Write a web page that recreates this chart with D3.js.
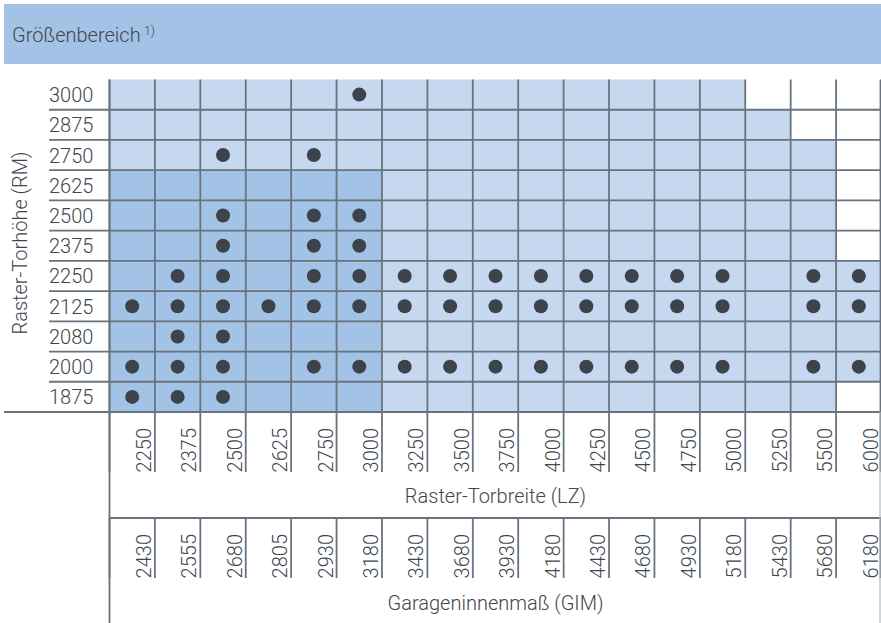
<!DOCTYPE html>
<html>
<head>
<meta charset="utf-8">
<script src="https://cdn.jsdelivr.net/npm/d3@7"></script>
<style>
body { margin: 0; background: #fff; }
text { font-family: Roboto, "Noto Sans", sans-serif; font-weight: 300; fill: #41464c; }
</style>
</head>
<body>
<svg width="881" height="623"></svg>
<script>
// door heights (rows, top to bottom) and widths (columns)
var heights = [3000, 2875, 2750, 2625, 2500, 2375, 2250, 2125, 2080, 2000, 1875];
var widths = [2250, 2375, 2500, 2625, 2750, 3000, 3250, 3500, 3750, 4000, 4250, 4500, 4750, 5000, 5250, 5500, 6000];
var garage = [2430, 2555, 2680, 2805, 2930, 3180, 3430, 3680, 3930, 4180, 4430, 4680, 4930, 5180, 5430, 5680, 6180];

// size range per width: highest and lowest height available
var maxHeight = [3000, 3000, 3000, 3000, 3000, 3000, 3000, 3000, 3000, 3000, 3000, 3000, 3000, 3000, 2875, 2750, 2250];
var minHeight = [1875, 1875, 1875, 1875, 1875, 1875, 1875, 1875, 1875, 1875, 1875, 1875, 1875, 1875, 1875, 1875, 2000];

// darker block
var stdWidths = [2250, 2375, 2500, 2625, 2750, 3000];
var stdHeights = [2625, 2500, 2375, 2250, 2125, 2080, 2000, 1875];

// dots, one list of widths per height row (same order as heights)
var dotRows = [
  [3000],
  [],
  [2500, 2750],
  [],
  [2500, 2750, 3000],
  [2500, 2750, 3000],
  [2375, 2500, 2750, 3000, 3250, 3500, 3750, 4000, 4250, 4500, 4750, 5000, 5500, 6000],
  [2250, 2375, 2500, 2625, 2750, 3000, 3250, 3500, 3750, 4000, 4250, 4500, 4750, 5000, 5500, 6000],
  [2375, 2500],
  [2250, 2375, 2500, 2750, 3000, 3250, 3500, 3750, 4000, 4250, 4500, 4750, 5000, 5500, 6000],
  [2250, 2375, 2500]
];

var svg = d3.select("svg");
var lineCol = "#69737e", dark = "#a3c3e6", light = "#c5d8ef", dotCol = "#3d434a";
var fs = "20px";

var x = d3.scaleBand().domain(widths).range([109.5, 881.5]).padding(0);
var y = d3.scaleBand().domain(heights).range([79.5, 412]).padding(0);
var gLeft = x.range()[0], gRight = x.range()[1], gTop = y.range()[0], gBottom = y.range()[1];
var tick1 = [gBottom, 472], tick2 = [518, 578];

// header band
svg.append("rect").attr("x", 4).attr("y", 4).attr("width", 877).attr("height", 60).attr("fill", dark);
var hdr = svg.append("text").attr("x", 12).attr("y", 42).attr("font-size", fs);
hdr.append("tspan").text("Größenbereich");
hdr.append("tspan").attr("dx", 3).attr("dy", -7).attr("font-size", "13px").text("1)");

// cells
var cells = [];
heights.forEach(function(h) {
  widths.forEach(function(w, j) {
    var fill = "#fff";
    if (h <= maxHeight[j] && h >= minHeight[j]) fill = light;
    if (stdWidths.indexOf(w) >= 0 && stdHeights.indexOf(h) >= 0) fill = dark;
    cells.push({ h: h, w: w, fill: fill });
  });
});
svg.append("g").selectAll("rect").data(cells).enter().append("rect")
  .attr("x", function(d) { return x(d.w); })
  .attr("y", function(d) { return y(d.h); })
  .attr("width", x.bandwidth())
  .attr("height", y.bandwidth())
  .attr("fill", function(d) { return d.fill; });

// grid lines
var g = svg.append("g").attr("stroke", lineCol).attr("stroke-width", 1.8);
var xb = widths.map(function(w) { return x(w); }).concat([gRight - 1]);
g.selectAll(".v1").data(xb).enter().append("line")
  .attr("x1", function(d) { return d; }).attr("x2", function(d) { return d; })
  .attr("y1", gTop).attr("y2", tick1[1]);
g.selectAll(".v2").data(xb).enter().append("line")
  .attr("x1", function(d) { return d; }).attr("x2", function(d) { return d; })
  .attr("y1", tick2[0]).attr("y2", tick2[1]);
g.selectAll(".h").data(heights.slice(1)).enter().append("line")
  .attr("x1", 49).attr("x2", gRight)
  .attr("y1", function(d) { return y(d); }).attr("y2", function(d) { return y(d); });
g.append("line").attr("x1", 4).attr("x2", gRight).attr("y1", gBottom).attr("y2", gBottom);
g.append("line").attr("x1", gLeft).attr("x2", gRight).attr("y1", tick2[0]).attr("y2", tick2[0]);
g.append("line").attr("x1", gLeft).attr("x2", gLeft).attr("y1", gTop).attr("y2", 623);
g.append("line").attr("x1", 880).attr("x2", 880).attr("y1", gBottom).attr("y2", 623)
  .attr("stroke", "#b5babf").attr("stroke-width", 1.2);

// dots
var dots = [];
dotRows.forEach(function(row, i) {
  row.forEach(function(w) { dots.push({ h: heights[i], w: w }); });
});
svg.append("g").selectAll("circle").data(dots).enter().append("circle")
  .attr("cx", function(d) { return x(d.w) + x.bandwidth() / 2; })
  .attr("cy", function(d) { return y(d.h) + y.bandwidth() / 2; })
  .attr("r", 7)
  .attr("fill", dotCol);

// row labels
svg.append("g").selectAll("text").data(heights).enter().append("text")
  .attr("x", 49)
  .attr("y", function(d) { return y(d) + y.bandwidth() / 2 + 7.5; })
  .attr("font-size", fs)
  .text(function(d) { return d; });

svg.append("text")
  .attr("transform", "translate(27," + 243 + ") rotate(-90)")
  .attr("text-anchor", "middle")
  .attr("font-size", fs)
  .text("Raster-Torhöhe (RM)");

// column labels (clipped at the bottom like the original)
var defs = svg.append("defs");
[tick1, tick2].forEach(function(t, k) {
  defs.append("clipPath").attr("id", "clip" + k).append("rect")
    .attr("x", gLeft).attr("y", t[0]).attr("width", gRight - gLeft).attr("height", t[1] - t[0]);
});
function colLabels(vals, t, k) {
  svg.append("g").attr("clip-path", "url(#clip" + k + ")")
    .selectAll("text").data(vals).enter().append("text")
    .attr("transform", function(d, i) {
      return "translate(" + (x(widths[i]) + x.bandwidth() - 4) + "," + (t[0] + 16) + ") rotate(-90)";
    })
    .attr("text-anchor", "end")
    .attr("font-size", fs)
    .text(function(d) { return d; });
}
colLabels(widths, tick1, 0);
colLabels(garage, tick2, 1);

svg.append("text").attr("x", (gLeft + gRight) / 2).attr("y", 503)
  .attr("text-anchor", "middle").attr("font-size", fs).text("Raster-Torbreite (LZ)");
svg.append("text").attr("x", (gLeft + gRight) / 2).attr("y", 610)
  .attr("text-anchor", "middle").attr("font-size", fs).text("Garageninnenmaß (GIM)");
</script>
</body>
</html>
